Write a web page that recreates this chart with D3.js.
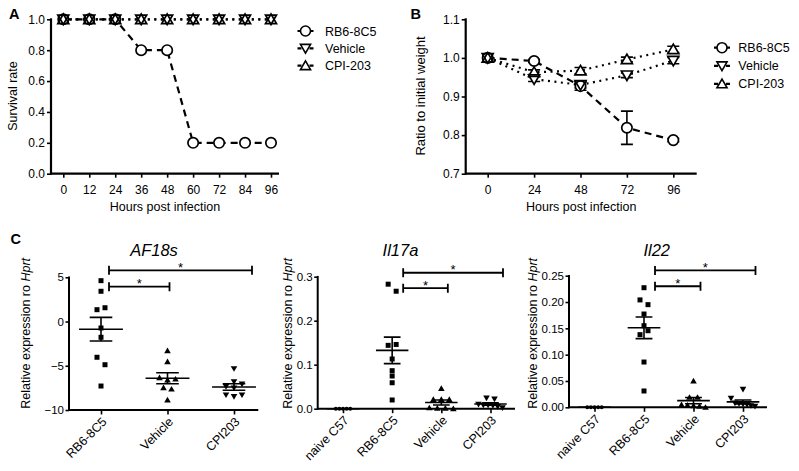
<!DOCTYPE html>
<html><head><meta charset="utf-8">
<script src="https://cdn.jsdelivr.net/npm/d3@7"></script>
<style>
body{margin:0;background:#fff;}
svg{display:block;font-family:Arial,"Liberation Sans",sans-serif;}
</style></head><body>
<svg id="chart" width="799" height="471"></svg>
<script>
// ---------- Panel A: survival ----------
const hoursA = [0, 12, 24, 36, 48, 60, 72, 84, 96];
const survivalRB6 = [1, 1, 1, 0.8, 0.8, 0.2, 0.2, 0.2, 0.2];
const survivalVehicle = [1, 1, 1, 1, 1, 1, 1, 1, 1];
const survivalCPI = [1, 1, 1, 1, 1, 1, 1, 1, 1];
const survivalTicks = [0, 0.2, 0.4, 0.6, 0.8, 1.0];

// ---------- Panel B: weight ----------
const hoursB = [0, 24, 48, 72, 96];
const weightRB6 = [1.000, 0.992, 0.927, 0.819, 0.787];
const weightRB6Err = [0, 0.004, 0.011, 0.043, 0.004];
const weightVehicle = [1.000, 0.945, 0.930, 0.955, 0.993];
const weightVehicleErr = [0, 0.006, 0.008, 0.006, 0.008];
const weightCPI = [1.000, 0.963, 0.967, 0.996, 1.022];
const weightCPIErr = [0, 0.006, 0.008, 0.006, 0.008];
const weightTicks = [0.7, 0.8, 0.9, 1.0, 1.1];
const seriesNames = ["RB6-8C5", "Vehicle", "CPI-203"];

// ---------- Panel C: expression ----------
const groupsAF = ["RB6-8C5", "Vehicle", "CPI203"];
const groupsIL = ["naive C57", "RB6-8C5", "Vehicle", "CPI203"];

const af18sRB6 = [4.62, 3.42, 1.34, 1.56, -0.73, -1.78, -4.04, -4.88, -7.29];
const af18sVehicle = [-3.30, -4.54, -6.35, -6.61, -6.50, -7.48, -7.63, -8.87];
const af18sCPI = [-5.33, -6.80, -7.36, -7.51, -7.06, -8.30, -8.49, -8.30];
const af18sTicks = [-10, -5, 0, 5];

const il17aNaive = [0, 0, 0, 0, 0];
const il17aRB6 = [0.283, 0.267, 0.144, 0.146, 0.113, 0.0864, 0.0743, 0.059, 0.0198];
const il17aVehicle = [0.046, 0.021, 0.021, 0.021, 0.002, 0.001, 0.001, 0.000];
const il17aCPI = [0.024, 0.022, 0.010, 0.008, 0.008, 0.007, 0.005, 0.002];
const il17aTicks = [0, 0.1, 0.2, 0.3];

const il22Naive = [0, 0, 0, 0, 0];
const il22RB6 = [0.2272, 0.204, 0.195, 0.1772, 0.155, 0.138, 0.1455, 0.086, 0.031];
const il22Vehicle = [0.050, 0.019, 0.019, 0.005, 0.004, 0.003, 0.002, 0.000];
const il22CPI = [0.034, 0.017, 0.008, 0.007, 0.006, 0.005, 0.003, 0.002];
const il22Ticks = [0, 0.05, 0.10, 0.15, 0.20, 0.25];

// significance brackets: [fromGroup, toGroup, height in data units]
const af18sSig = [["RB6-8C5", "Vehicle", 3.94], ["RB6-8C5", "CPI203", 5.79]];
const il17aSig = [["RB6-8C5", "Vehicle", 0.274], ["RB6-8C5", "CPI203", 0.309]];
const il22Sig = [["RB6-8C5", "Vehicle", 0.230], ["RB6-8C5", "CPI203", 0.260]];

// ======================================================
const svg = d3.select("#chart");

function shapePath(type, s) {
  switch (type) {
    case "circle": return `M${-s},0A${s},${s} 0 1,0 ${s},0A${s},${s} 0 1,0 ${-s},0Z`;
    case "square": return `M${-s},${-s}H${s}V${s}H${-s}Z`;
    case "up": return `M0,${-s * 1.05}L${s * 1.1},${s * 0.85}L${-s * 1.1},${s * 0.85}Z`;
    case "down": return `M0,${s * 1.05}L${s * 1.1},${-s * 0.85}L${-s * 1.1},${-s * 0.85}Z`;
  }
}

function panelLabel(t, x, y) {
  svg.append("text").attr("x", x).attr("y", y).attr("font-size", 14.5).attr("font-weight", "bold").text(t);
}

function styleAxis(g, fs) {
  g.select(".domain").remove();
  g.selectAll(".tick line").attr("stroke", "#000").attr("stroke-width", 1.6);
  g.selectAll(".tick text").attr("font-size", fs).attr("fill", "#000").attr("font-family", "Arial, 'Liberation Sans', sans-serif");
}

// ---------- line panels ----------
function linePanel(cfg) {
  const g = svg.append("g");
  const x = d3.scaleLinear().domain([0, 96]).range(cfg.xRange);
  const y = d3.scaleLinear().domain(cfg.yDomain).range([173.7, 19.3]);

  const ax = g.append("g").attr("transform", `translate(0,${y.range()[0]})`)
    .call(d3.axisBottom(x).tickValues(cfg.hours).tickSize(4).tickPadding(8));
  styleAxis(ax, 12);
  const ay = g.append("g").attr("transform", `translate(${cfg.axisX[0]},0)`)
    .call(d3.axisLeft(y).tickValues(cfg.yTicks).tickFormat(d3.format(".1f")).tickSize(4).tickPadding(2));
  styleAxis(ay, 12);
  g.append("line").attr("x1", cfg.axisX[0]).attr("x2", cfg.axisX[1]).attr("y1", y.range()[0]).attr("y2", y.range()[0]).attr("stroke", "#000").attr("stroke-width", 2.2);
  g.append("line").attr("x1", cfg.axisX[0]).attr("x2", cfg.axisX[0]).attr("y1", y.range()[0] + 1).attr("y2", 18.3).attr("stroke", "#000").attr("stroke-width", 2.2);

  g.append("text").attr("x", (cfg.axisX[0] + cfg.axisX[1]) / 2).attr("y", 211).attr("text-anchor", "middle").attr("font-size", 12.5).text("Hours post infection");
  g.append("text").attr("transform", `translate(${cfg.yTitleX},96) rotate(-90)`).attr("text-anchor", "middle").attr("font-size", cfg.yTitleSize).text(cfg.yTitle);

  const styles = [
    { shape: "circle", dash: "7,5", s: 5.2 },
    { shape: "down", dash: "2,4.5", s: 5 },
    { shape: "up", dash: "2,4.5", s: 5 }
  ];
  const line = d3.line().x(d => x(d[0])).y(d => y(d[1]));
  cfg.series.forEach((vals, i) => {
    const pts = cfg.hours.map((h, k) => [h, vals[k]]);
    g.append("path").attr("d", line(pts)).attr("fill", "none").attr("stroke", "#000")
      .attr("stroke-width", 2.2).attr("stroke-dasharray", styles[i].dash);
  });
  if (cfg.errs) {
    cfg.series.forEach((vals, i) => {
      cfg.hours.forEach((h, k) => {
        const e = cfg.errs[i][k];
        if (!e) return;
        const cx = x(h);
        g.append("path").attr("d", `M${cx},${y(vals[k] + e)}V${y(vals[k] - e)}M${cx - 6},${y(vals[k] + e)}H${cx + 6}M${cx - 6},${y(vals[k] - e)}H${cx + 6}`)
          .attr("stroke", "#000").attr("stroke-width", 1.6).attr("fill", "none");
      });
    });
  }
  // marker fills, then outlines
  ["fill", "stroke"].forEach(layer => {
    cfg.series.forEach((vals, i) => {
      cfg.hours.forEach((h, k) => {
        const p = g.append("path").attr("d", shapePath(styles[i].shape, styles[i].s))
          .attr("transform", `translate(${x(h)},${y(vals[k])})`);
        if (layer === "fill") p.attr("fill", "#fff").attr("stroke", "none");
        else p.attr("fill", "none").attr("stroke", "#000").attr("stroke-width", 1.7);
      });
    });
  });
  // legend
  seriesNames.forEach((name, i) => {
    const cy = cfg.legendY[i], cx = cfg.legendX;
    g.append("path").attr("d", `M${cx - 8},${cy}H${cx - 4}M${cx + 4},${cy}H${cx + 8}`).attr("stroke", "#000").attr("stroke-width", 2.2);
    g.append("path").attr("d", shapePath(styles[i].shape, styles[i].shape === "circle" ? 5 : 4.6))
      .attr("transform", `translate(${cx},${cy})`).attr("fill", "#fff").attr("stroke", "#000").attr("stroke-width", 1.6);
    g.append("text").attr("x", cfg.legendTextX).attr("y", cy + 4.5).attr("font-size", 12.5).text(name);
  });
}

linePanel({
  hours: hoursA, series: [survivalRB6, survivalVehicle, survivalCPI],
  yDomain: [0, 1], yTicks: survivalTicks, xRange: [63.3, 271], axisX: [51, 279],
  yTitle: "Survival rate", yTitleX: 17, yTitleSize: 12.5,
  legendX: 305.5, legendTextX: 325, legendY: [31, 48.3, 65.7]
});
linePanel({
  hours: hoursB, series: [weightRB6, weightVehicle, weightCPI],
  errs: [weightRB6Err, weightVehicleErr, weightCPIErr],
  yDomain: [0.7, 1.1], yTicks: weightTicks, xRange: [487.7, 673.3], axisX: [465.7, 696.7],
  yTitle: "Ratio to initial weight", yTitleX: 425, yTitleSize: 13,
  legendX: 722, legendTextX: 738.3, legendY: [47.7, 65.8, 83.9]
});
panelLabel("A", 9, 18.8);
panelLabel("B", 410.5, 18.8);
panelLabel("C", 10.5, 243.8);

// ---------- scatter panels ----------
const markerOf = { "naive C57": "circle", "RB6-8C5": "square", "Vehicle": "up", "CPI203": "down" };

function swarm(values, y, bottom, binH, d, maxSpan) {
  const bins = new Map();
  values.forEach((v, i) => {
    const b = Math.floor((bottom - y(v)) / binH + 1e-9);
    if (!bins.has(b)) bins.set(b, []);
    bins.get(b).push(i);
  });
  const off = new Array(values.length).fill(0);
  bins.forEach(idx => {
    const n = idx.length;
    const st = n > 1 ? Math.min(d, maxSpan / (n - 1)) : 0;
    idx.forEach((k, j) => off[k] = (j - (n - 1) / 2) * st);
  });
  return off;
}

function scatterPanel(cfg) {
  const g = svg.append("g");
  const x = d3.scalePoint().domain(cfg.groups).range(cfg.xCenters);
  const y = d3.scaleLinear().domain(cfg.yDomain).range(cfg.yRange);
  const step = x.step();
  const bottom = cfg.yRange[0];

  const ay = g.append("g").attr("transform", `translate(${cfg.axisX[0]},0)`)
    .call(d3.axisLeft(y).tickValues(cfg.yTicks).tickFormat(cfg.fmt).tickSize(3.5).tickPadding(1.5));
  styleAxis(ay, 11.5);
  const ax = g.append("g").attr("transform", `translate(0,${bottom})`)
    .call(d3.axisBottom(x).tickSize(4.5).tickFormat(""));
  styleAxis(ax, 11);
  g.append("line").attr("x1", cfg.axisX[0]).attr("x2", cfg.axisX[1]).attr("y1", bottom).attr("y2", bottom).attr("stroke", "#000").attr("stroke-width", 2);
  g.append("line").attr("x1", cfg.axisX[0]).attr("x2", cfg.axisX[0]).attr("y1", bottom + 1).attr("y2", cfg.yRange[1] - 0.8).attr("stroke", "#000").attr("stroke-width", 2);

  // rotated category labels
  cfg.groups.forEach(gr => {
    g.append("text").attr("transform", `translate(${x(gr) + 6.5},${bottom + 12.5}) rotate(-45)`)
      .attr("text-anchor", "end").attr("font-size", 12.5).text(gr);
  });

  // title & y title
  g.append("text").attr("x", cfg.titleX).attr("y", 256).attr("text-anchor", "middle")
    .attr("font-size", 16.5).attr("font-style", "italic").text(cfg.title);
  const yt = g.append("text").attr("transform", `translate(${cfg.yTitleX},333.3) rotate(-90)`)
    .attr("text-anchor", "middle").attr("font-size", 12.5);
  yt.append("tspan").text("Relative expression ro ");
  yt.append("tspan").attr("font-style", "italic").text("Hprt");

  // points
  cfg.groups.forEach((gr, gi) => {
    const vals = cfg.data[gi];
    const shape = markerOf[gr];
    const d = shape === "circle" ? 3.6 : 8;
    const off = swarm(vals, y, bottom, 9, d, 24);
    const s = shape === "circle" ? 2 : (shape === "square" ? 2.5 : 3);
    vals.forEach((v, i) => {
      g.append("path").attr("d", shapePath(shape, s))
        .attr("transform", `translate(${x(gr) + off[i]},${y(v)})`).attr("fill", "#000");
    });
    // mean +- SEM
    const m = d3.mean(vals);
    const sem = vals.length > 1 ? d3.deviation(vals) / Math.sqrt(vals.length) : 0;
    const cx = x(gr), hw = 0.33 * step, cw = 0.17 * step;
    g.append("path").attr("d",
      `M${cx - hw},${y(m)}H${cx + hw}M${cx},${y(m + sem)}V${y(m - sem)}M${cx - cw},${y(m + sem)}H${cx + cw}M${cx - cw},${y(m - sem)}H${cx + cw}`)
      .attr("stroke", "#000").attr("stroke-width", 1.6).attr("fill", "none");
  });

  // significance brackets
  cfg.sig.forEach((sg, k) => {
    const x1 = x(sg[0]) + cfg.sigStart, x2 = x(sg[1]) + cfg.sigEnd[k], yy = y(sg[2]);
    g.append("path").attr("d", `M${x1},${yy}H${x2}M${x1},${yy - 4.5}V${yy + 4.5}M${x2},${yy - 4.5}V${yy + 4.5}`)
      .attr("stroke", "#000").attr("stroke-width", 1.8).attr("fill", "none");
    g.append("text").attr("x", (x1 + x2) / 2).attr("y", yy + 1.5).attr("text-anchor", "middle")
      .attr("font-size", 13).text("*");
  });
}

scatterPanel({
  groups: groupsAF, data: [af18sRB6, af18sVehicle, af18sCPI],
  xCenters: [101, 234], axisX: [69, 258.3], yDomain: [-10, 5], yRange: [410, 277.3],
  yTicks: af18sTicks, fmt: d3.format(",.0f"), title: "AF18s", titleX: 154, yTitleX: 29.5,
  sig: af18sSig, sigStart: 8, sigEnd: [2, 18]
});
scatterPanel({
  groups: groupsIL, data: [il17aNaive, il17aRB6, il17aVehicle, il17aCPI],
  xCenters: [343, 490.5], axisX: [317.7, 515], yDomain: [0, 0.3], yRange: [408.7, 276.7],
  yTicks: il17aTicks, fmt: d3.format(".1f"), title: "Il17a", titleX: 400.5, yTitleX: 291.5,
  sig: il17aSig, sigStart: 11, sigEnd: [6.5, 12.5]
});
scatterPanel({
  groups: groupsIL, data: [il22Naive, il22RB6, il22Vehicle, il22CPI],
  xCenters: [594.5, 743], axisX: [569, 767], yDomain: [0, 0.25], yRange: [407.3, 275.7],
  yTicks: il22Ticks, fmt: d3.format(".2f"), title: "Il22", titleX: 656.7, yTitleX: 537,
  sig: il22Sig, sigStart: 11, sigEnd: [7, 12.5]
});
</script>
</body></html>
